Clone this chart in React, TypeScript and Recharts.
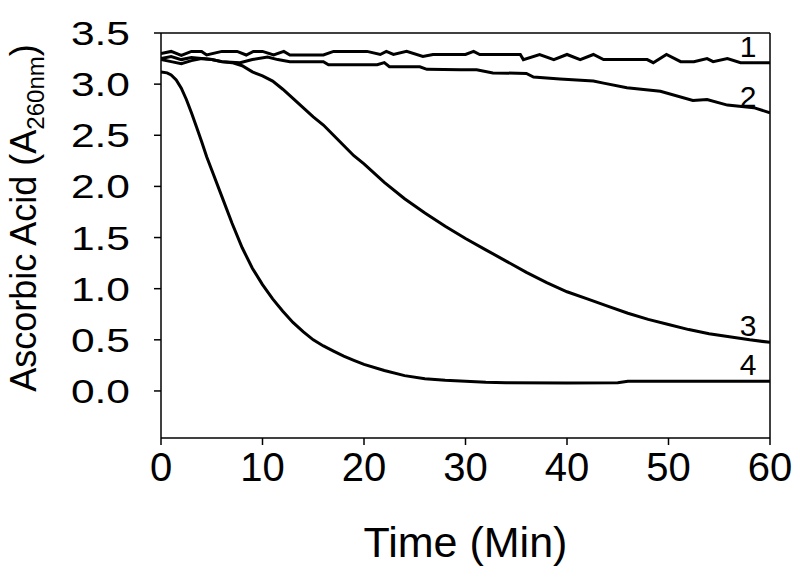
import React from 'react';
import { LineChart, Line, XAxis, YAxis, ReferenceLine, LabelList, Label } from 'recharts';

// Curve 1
const time1 = [0, 1, 2, 3, 4, 4.5, 6, 7.5, 8.4, 9.1, 10, 11.1, 12.1, 12.7, 16, 17, 20.3, 21.6, 22.2, 22.9, 24.2, 25.8, 26.8, 30, 30.8, 31.4, 35.4, 35.7, 37.3, 38.7, 40, 41.3, 42.6, 43.6, 47.9, 48.5, 49.8, 51.2, 52.5, 53.8, 54.4, 55.8, 57.1, 60];
const absorb1 = [3.3, 3.32, 3.28, 3.32, 3.32, 3.285, 3.32, 3.32, 3.285, 3.32, 3.32, 3.285, 3.32, 3.285, 3.285, 3.32, 3.32, 3.29, 3.32, 3.29, 3.32, 3.27, 3.29, 3.29, 3.32, 3.29, 3.29, 3.24, 3.29, 3.24, 3.29, 3.24, 3.29, 3.24, 3.24, 3.21, 3.29, 3.22, 3.22, 3.25, 3.22, 3.25, 3.21, 3.21];

// Curve 2
const time2 = [0, 1, 2, 3, 4, 5, 6, 7.8, 9, 10.5, 11.5, 12.7, 16, 16.5, 21.3, 22, 22.5, 25.5, 26.2, 29.5, 31.1, 32.7, 36, 36.7, 39.3, 42.6, 43.6, 45.9, 49.2, 52.4, 53.8, 55.8, 58.4, 60];
const absorb2 = [3.24, 3.22, 3.2, 3.23, 3.25, 3.24, 3.22, 3.21, 3.24, 3.265, 3.24, 3.22, 3.22, 3.19, 3.19, 3.21, 3.17, 3.17, 3.145, 3.14, 3.14, 3.11, 3.105, 3.07, 3.05, 3.03, 3.01, 2.965, 2.93, 2.84, 2.85, 2.795, 2.77, 2.72];

// Curve 3
const time3 = [0, 1, 2, 3, 4, 5, 6, 7, 8, 9, 10, 11, 12, 13, 14, 15, 16, 17, 18, 19, 20, 22, 24, 26, 28, 30, 32, 34, 36, 38, 40, 42, 44, 46, 48, 50, 52, 54, 56, 58, 60];
const absorb3 = [3.25, 3.27, 3.24, 3.26, 3.25, 3.24, 3.22, 3.21, 3.18, 3.12, 3.08, 3.03, 2.95, 2.86, 2.77, 2.68, 2.6, 2.5, 2.4, 2.3, 2.22, 2.04, 1.88, 1.74, 1.61, 1.49, 1.38, 1.27, 1.16, 1.06, 0.97, 0.9, 0.83, 0.76, 0.7, 0.65, 0.6, 0.56, 0.53, 0.5, 0.475];

// Curve 4
const time4 = [0, 0.6, 1, 1.5, 2, 2.5, 3, 3.5, 4, 4.5, 5, 6, 7, 8, 9, 10, 11, 12, 13, 14, 15, 16, 17, 18, 19, 20, 22, 24, 26, 28, 30, 32, 34, 40, 45, 46, 60];
const absorb4 = [3.12, 3.11, 3.09, 3.04, 2.96, 2.85, 2.72, 2.58, 2.44, 2.29, 2.16, 1.9, 1.64, 1.4, 1.2, 1.04, 0.9, 0.78, 0.67, 0.58, 0.5, 0.44, 0.39, 0.34, 0.3, 0.26, 0.2, 0.15, 0.12, 0.105, 0.095, 0.085, 0.08, 0.078, 0.08, 0.095, 0.095];

const curveNames = ['1', '2', '3', '4'];
const xTicks = [0, 10, 20, 30, 40, 50, 60];
const yTicks = [0, 0.5, 1, 1.5, 2, 2.5, 3, 3.5];
const xTitle = 'Time (Min)';
const yTitleMain = 'Ascorbic Acid (A';
const yTitleSub = '260nm';
const yTitleEnd = ')';

const toData = (t: number[], v: number[]) => t.map((x, i) => ({ t: x, v: v[i] }));
const series = [
  toData(time1, absorb1),
  toData(time2, absorb2),
  toData(time3, absorb3),
  toData(time4, absorb4),
];

const FONT = '"Liberation Sans", Arial, Helvetica, sans-serif';

const makeEndLabel = (name: string, lastIndex: number) => (p: any) => {
  if (p.index !== lastIndex) return null;
  return (
    <text x={p.x - 22} y={p.y - 6} textAnchor="middle" fontSize={30} fontFamily={FONT} fill="#000">
      {name}
    </text>
  );
};

const YTick = (p: any) => {
  const v = p.payload && typeof p.payload.value === 'number' ? p.payload.value : 0;
  return (
    <text
      transform={`translate(${p.x},${p.y}) scale(1.25,1)`}
      textAnchor="end"
      dy="0.355em"
      fontSize={34}
      fontFamily={FONT}
      fill="#000"
    >
      {v.toFixed(1)}
    </text>
  );
};

const renderYTitle = () => {
  const cx = 36;
  const cy = 218;
  return (
    <text
      transform={`translate(${cx},${cy}) rotate(-90)`}
      textAnchor="middle"
      fontSize={36}
      fontFamily={FONT}
      fill="#000"
    >
      {yTitleMain}
      <tspan fontSize={24} dy={8}>{yTitleSub}</tspan>
      <tspan dy={-8}>{yTitleEnd}</tspan>
    </text>
  );
};

const renderXTitle = (props: any) => {
  const vb = props.viewBox || { x: 0, width: 0, y: 0 };
  return (
    <text x={vb.x + vb.width / 2} y={557} textAnchor="middle" fontSize={43} fontFamily={FONT} fill="#000">
      {xTitle}
    </text>
  );
};

export default function App() {
  return (
    <div style={{ position: 'absolute', left: 0, top: 0, width: 800, height: 584, background: '#fff' }}>
      <LineChart width={800} height={584} margin={{ top: 33, right: 30, bottom: 0, left: 0 }}>
        <XAxis
          dataKey="t"
          type="number"
          domain={[0, 60]}
          ticks={xTicks}
          allowDataOverflow
          height={146}
          tickSize={7}
          tickMargin={8}
          axisLine={{ stroke: '#000', strokeWidth: 1.5 }}
          tickLine={{ stroke: '#000', strokeWidth: 1.5 }}
          tick={{ fill: '#000', fontSize: 40, fontFamily: FONT }}
        >
          <Label content={renderXTitle} />
        </XAxis>
        <YAxis
          type="number"
          domain={[-0.46, 3.5]}
          ticks={yTicks}
          allowDataOverflow
          width={161}
          tickSize={7}
          tickMargin={24}
          axisLine={{ stroke: '#000', strokeWidth: 1.5 }}
          tickLine={{ stroke: '#000', strokeWidth: 1.5 }}
          tick={<YTick />}
        >
          <Label content={renderYTitle} />
        </YAxis>
        <ReferenceLine y={3.5} stroke="#000" strokeWidth={1.5} />
        <ReferenceLine x={60} stroke="#000" strokeWidth={1.5} />
        {series.map((d, i) => (
          <Line
            key={curveNames[i]}
            data={d}
            dataKey="v"
            type="linear"
            stroke="#000"
            strokeWidth={3}
            dot={false}
            activeDot={false}
            isAnimationActive={false}
          >
            <LabelList dataKey="v" content={makeEndLabel(curveNames[i], d.length - 1)} />
          </Line>
        ))}
      </LineChart>
    </div>
  );
}
